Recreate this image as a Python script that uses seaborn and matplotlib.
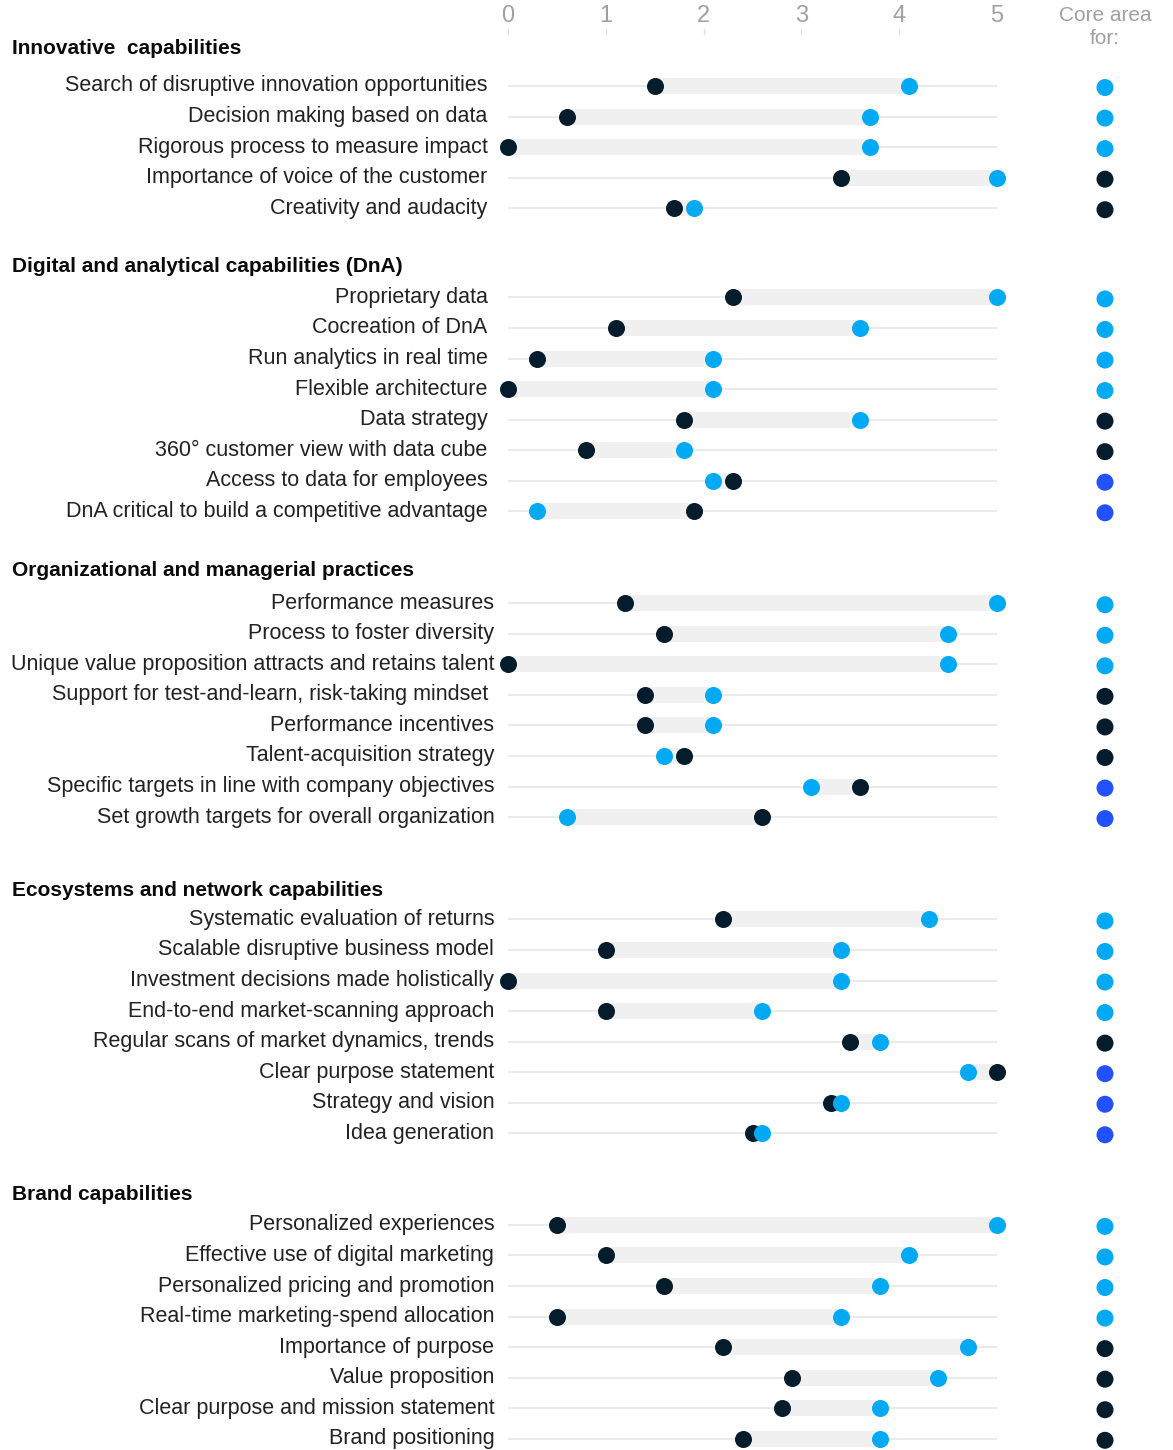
import numpy as np
import pandas as pd
import seaborn as sns
import matplotlib.pyplot as plt

# section titles and their rows
sections = [
    "Innovative  capabilities",
    "Digital and analytical capabilities (DnA)",
    "Organizational and managerial practices",
    "Ecosystems and network capabilities",
    "Brand capabilities",
]

labels = [
    ["Search of disruptive innovation opportunities",
     "Decision making based on data",
     "Rigorous process to measure impact",
     "Importance of voice of the customer",
     "Creativity and audacity"],
    ["Proprietary data",
     "Cocreation of DnA",
     "Run analytics in real time",
     "Flexible architecture",
     "Data strategy",
     "360° customer view with data cube",
     "Access to data for employees",
     "DnA critical to build a competitive advantage"],
    ["Performance measures",
     "Process to foster diversity",
     "Unique value proposition attracts and retains talent",
     "Support for test-and-learn, risk-taking mindset ",
     "Performance incentives",
     "Talent-acquisition strategy",
     "Specific targets in line with company objectives",
     "Set growth targets for overall organization"],
    ["Systematic evaluation of returns",
     "Scalable disruptive business model",
     "Investment decisions made holistically",
     "End-to-end market-scanning approach",
     "Regular scans of market dynamics, trends",
     "Clear purpose statement",
     "Strategy and vision",
     "Idea generation"],
    ["Personalized experiences",
     "Effective use of digital marketing",
     "Personalized pricing and promotion",
     "Real-time marketing-spend allocation",
     "Importance of purpose",
     "Value proposition",
     "Clear purpose and mission statement",
     "Brand positioning"],
]

# dark dot values
dark_vals = [
    [1.5, 0.6, 0.0, 3.4, 1.7],
    [2.3, 1.1, 0.3, 0.0, 1.8, 0.8, 2.3, 1.9],
    [1.2, 1.6, 0.0, 1.4, 1.4, 1.8, 3.6, 2.6],
    [2.2, 1.0, 0.0, 1.0, 3.5, 5.0, 3.3, 2.5],
    [0.5, 1.0, 1.6, 0.5, 2.2, 2.9, 2.8, 2.4],
]

# light blue dot values
cyan_vals = [
    [4.1, 3.7, 3.7, 5.0, 1.9],
    [5.0, 3.6, 2.1, 2.1, 3.6, 1.8, 2.1, 0.3],
    [5.0, 4.5, 4.5, 2.1, 2.1, 1.6, 3.1, 0.6],
    [4.3, 3.4, 3.4, 2.6, 3.8, 4.7, 3.4, 2.6],
    [5.0, 4.1, 3.8, 3.4, 4.7, 4.4, 3.8, 3.8],
]

# core area for: c = cyan group, d = dark group, b = blue (both)
core = [
    ["c", "c", "c", "d", "d"],
    ["c", "c", "c", "c", "d", "d", "b", "b"],
    ["c", "c", "c", "d", "d", "d", "b", "b"],
    ["c", "c", "c", "c", "d", "b", "b", "b"],
    ["c", "c", "c", "c", "d", "d", "d", "d"],
]

DARK = "#051c2c"
CYAN = "#00a9f4"
BLUE = "#2251ff"
core_colors = {"c": CYAN, "d": DARK, "b": BLUE}

# layout in row units (one row = 30.55 px)
row_px = 30.55
first_row = 86 / row_px
head_gap = [1.24, 1.02, 1.08, 0.95, 1.0]
sect_gap = [1.9, 1.93, 2.4, 2.0]
label_x = [-0.21, -0.21, -0.14, -0.14, -0.14]

rows = []
headers = []
y = first_row
for s, name in enumerate(sections):
    if s > 0:
        y = y + sect_gap[s - 1]
        hy = y
        y = y + head_gap[s]
    else:
        hy = y - head_gap[s]
    headers.append(hy)
    for i, lab in enumerate(labels[s]):
        rows.append({"section": s, "label": lab, "y": y,
                     "dark": dark_vals[s][i], "cyan": cyan_vals[s][i],
                     "core": core[s][i]})
        y = y + 1
    y = y - 1

df = pd.DataFrame(rows)

sns.set_theme(style="white")
plt.rcParams["font.family"] = ["Liberation Sans", "DejaVu Sans"]

W, H = 1173, 1450
fig = plt.figure(figsize=(W / 100, H / 100), dpi=100)
x0, x5 = 508, 997
ax = fig.add_axes([x0 / W, 0, (x5 - x0) / W, 1])
ax.set_xlim(0, 5)
ax.set_ylim(H / row_px, 0)
ax.axis("off")

# thin gridline per row
for yy in df["y"]:
    ax.plot([0, 5], [yy, yy], color="#e6e6e6", lw=1.2, zorder=1, solid_capstyle="butt")

# gray band between the two dots
lo = df[["dark", "cyan"]].min(axis=1)
hi = df[["dark", "cyan"]].max(axis=1)
ax.barh(df["y"], hi - lo, left=lo, height=16 / row_px, color="#f0f0f0",
        zorder=2, linewidth=0)

sns.scatterplot(data=df, x="dark", y="y", color=DARK, s=150, linewidth=0,
                zorder=4, ax=ax, clip_on=False, legend=False)
sns.scatterplot(data=df, x="cyan", y="y", color=CYAN, s=150, linewidth=0,
                zorder=5, ax=ax, clip_on=False, legend=False)

# core area column
core_x = (1105 - x0) / ((x5 - x0) / 5)
ax.scatter(np.full(len(df), core_x), df["y"] + 0.05, c=df["core"].map(core_colors),
           s=150, linewidth=0, clip_on=False, zorder=5)

# labels
for _, r in df.iterrows():
    ax.text(label_x[r["section"]], r["y"], r["label"], ha="right", va="center",
            fontsize=15.5, color="#222222")

head_x = (12 - x0) / ((x5 - x0) / 5)
for s, name in enumerate(sections):
    ax.text(head_x, headers[s], name, ha="left", va="center", fontsize=15,
            fontweight="bold", color="#0a0a0a")

# top axis ticks
ticks = [0, 1, 2, 3, 4, 5]
for t in ticks:
    ax.text(t, 16 / row_px, str(t), ha="center", va="center", fontsize=17,
            color="#a0a0a0")
    ax.plot([t, t], [29 / row_px, 34 / row_px], color="#e0e0e0", lw=1)

ax.text(core_x, 27 / row_px, "Core area\nfor:", ha="center", va="center",
        fontsize=15, color="#a0a0a0", linespacing=1.25)

fig.savefig("out.png", dpi=100)
